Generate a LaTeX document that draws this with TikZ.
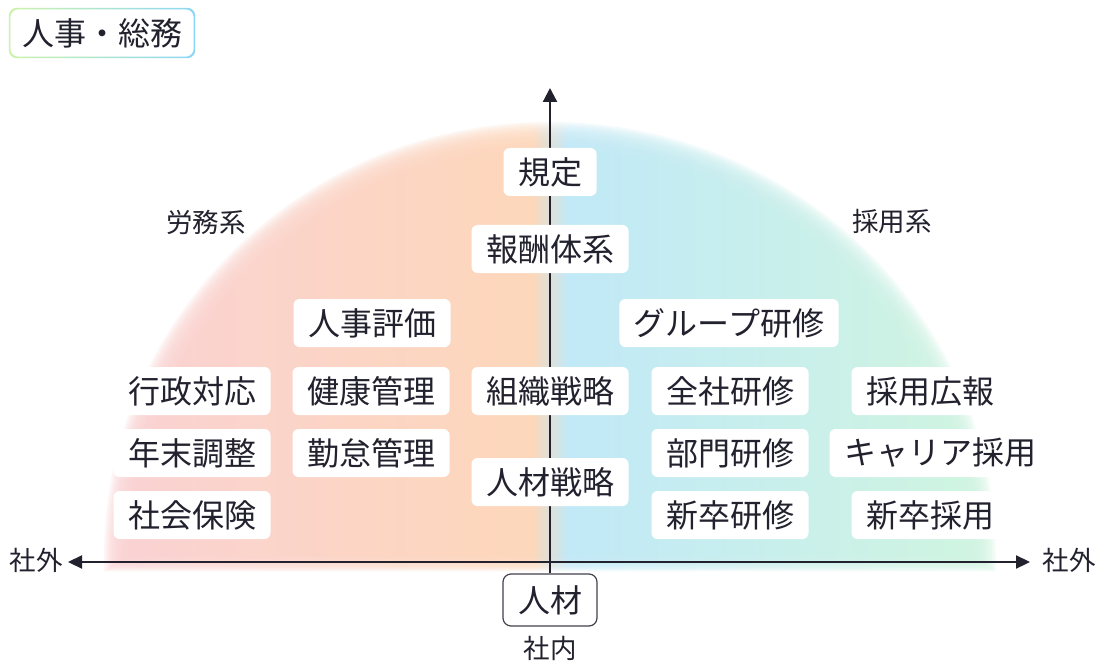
\documentclass[tikz,border=0pt]{standalone}
\usepackage{fontspec}
\setmainfont{Noto Sans CJK JP}
\usetikzlibrary{arrows.meta,backgrounds}

\definecolor{ink}{RGB}{34,33,46}
\definecolor{halopink}{RGB}{250,210,212}
\definecolor{halopeach}{RGB}{253,215,186}
\definecolor{haloblue}{RGB}{193,233,247}
\definecolor{halogreen}{RGB}{208,245,224}
\definecolor{titlegreen}{RGB}{205,243,170}
\definecolor{titleblue}{RGB}{140,214,246}

\pgfdeclarehorizontalshading{halo_spread}{100bp}{color(0bp)=(halopink); color(25bp)=(halopink); color(49bp)=(halopeach); color(51bp)=(haloblue); color(75bp)=(halogreen); color(100bp)=(halogreen)}

\begin{document}
\begin{tikzpicture}[x=1pt, y=-1pt,
    item/.style={fill=white, rounded corners=6, inner xsep=14.5, inner ysep=0, minimum height=48, text=ink, font=\fontsize{32}{38}\selectfont},
    side/.style={text=ink, inner sep=0, font=\fontsize{26.5}{30}\selectfont},
    axis_line/.style={draw=ink, line width=2.2}]
                \useasboundingbox (0,0) rectangle (1100,663);

                % title
                \node(title) at(102, 33) [item, fill=none, inner xsep=0, minimum width=186, minimum height=50] {人事・総務};
                \shade[left color=titlegreen, right color=titleblue, even odd rule, rounded corners=8]
                    (title.south west) rectangle (title.north east)
                    ([shift={(1.5,-1.5)}]title.south west) rectangle ([shift={(-1.5,1.5)}]title.north east);

                % centre column
                \node(kitei)    at(550, 172) [item] {規定};
                \node(housyu)   at(550, 249) [item] {報酬体系};
                \node(soshiki)  at(550, 391) [item] {組織戦略};
                \node(senryaku) at(550, 482) [item] {人材戦略};
                \node(core)     at(550, 600) [item, draw=ink!85, line width=1.2, rounded corners=8, minimum width=94, minimum height=52] {人材};

                % left side
                \node(hyouka)   at(372, 323) [item] {人事評価};
                \node(gyousei)  at(192, 391) [item] {行政対応};
                \node(kenkou)   at(371, 391) [item] {健康管理};
                \node(nenmatsu) at(192, 453) [item] {年末調整};
                \node(kintai)   at(371, 453) [item] {勤怠管理};
                \node(shakai)   at(192, 515) [item] {社会保険};

                % right side
                \node(group)    at(729, 323) [item] {グループ研修};
                \node(zensha)   at(730, 391) [item] {全社研修};
                \node(kouhou)   at(930, 391) [item] {採用広報};
                \node(bumon)    at(730, 453) [item] {部門研修};
                \node(career)   at(940, 453) [item] {キャリア採用};
                \node(shin_ken) at(730, 515) [item] {新卒研修};
                \node(shin_sai) at(930, 515) [item] {新卒採用};

                % axis labels
                \node(roumu_lab)  at(206, 222) [side] {労務系};
                \node(saiyou_lab) at(892, 222) [side] {採用系};
                \node(west_lab)   at(36, 560)  [side] {社外};
                \node(east_lab)   at(1069, 560) [side] {社外};
                \node(inner_lab)  at(550, 648) [side] {社内};

                \coordinate(west_tip)  at(68, 562);
                \coordinate(east_tip)  at(1030, 562);
                \coordinate(north_tip) at(550, 88);

                \begin{scope}[on background layer]
                    \fill[white] (0,0) rectangle (1100,663);
                    % blurred half ellipse
                    \foreach \d in {-14,-12,...,14}
                        \shade[shading=halo_spread, opacity=0.2]
                            ({118-\d},{563+0.6*\d}) -- ({118-\d},558)
                            arc[start angle=180, end angle=360, x radius={432+\d}, y radius={422+\d}]
                            -- ({982+\d},{563+0.6*\d}) -- cycle;
                    \draw[axis_line]
                        [{Triangle[length=14pt, width=13pt]}-{Triangle[length=14pt, width=13pt]}] (west_tip) -- (east_tip);
                    \draw[axis_line]
                        [-{Triangle[length=14pt, width=14pt]}] (core.north) -- (north_tip);
                \end{scope}
            \end{tikzpicture}
\end{document}
